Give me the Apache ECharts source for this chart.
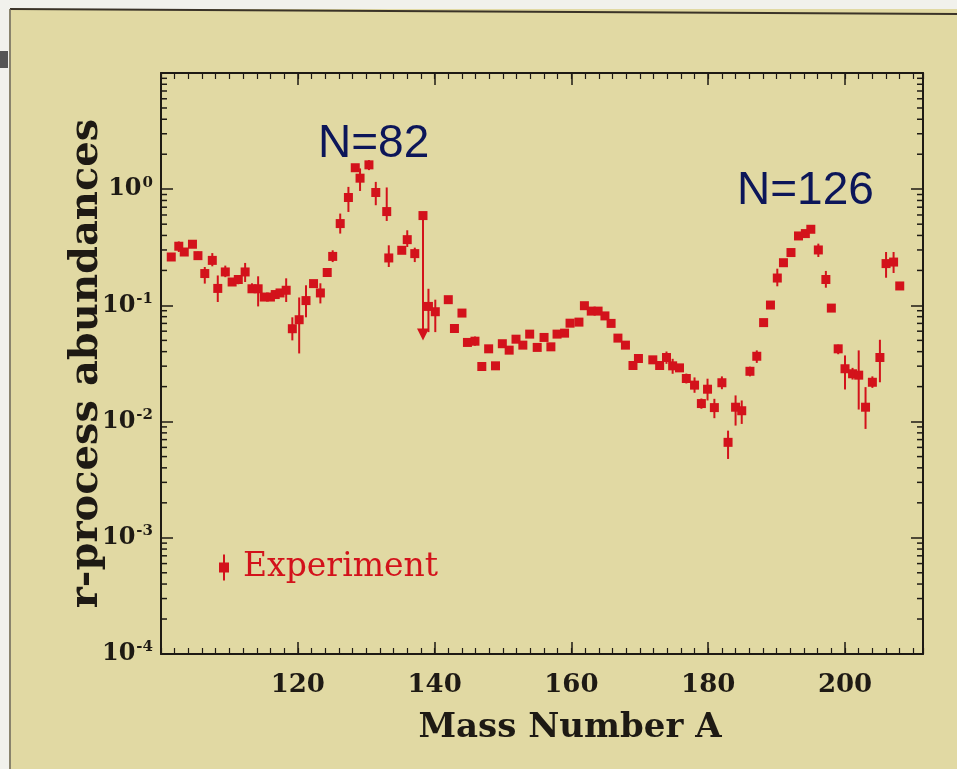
<!DOCTYPE html>
<html>
<head>
<meta charset="utf-8">
<script src="https://cdn.jsdelivr.net/npm/echarts@6/dist/echarts.min.js"></script>
<style>
  html, body { margin: 0; padding: 0; background: #fff; }
  #chart { width: 957px; height: 769px; }
</style>
</head>
<body>
<div id="chart"></div>
<script>
// mass number A of each measured point
const massNumber = [
  101.5, 102.6, 103.4, 104.6, 105.4, 106.4, 107.5, 108.3, 109.4, 110.4,
  111.3, 112.3, 113.3, 114.2, 115.1, 116.0, 116.7, 117.4, 118.3, 119.2,
  120.2, 121.2, 122.3, 123.3, 124.3, 125.1, 126.2, 127.4, 128.4, 129.1,
  130.4, 131.4, 133.0, 133.3, 135.2, 136.0, 137.1, 138.3, 139.1, 140.1,
  142.0, 142.9, 144.0, 144.8, 145.9, 146.9, 147.9, 148.9, 149.9, 150.9,
  151.9, 152.9, 153.9, 155.0, 156.0, 157.0, 157.9, 159.0, 159.8, 161.1,
  161.9, 162.9, 163.9, 164.9, 165.8, 166.8, 167.9, 169.0, 169.8, 171.9,
  172.9, 173.9, 174.8, 175.8, 176.8, 178.0, 179.0, 179.9, 180.9, 182.0,
  182.9, 184.0, 184.9, 186.1, 187.1, 188.1, 189.1, 190.1, 191.0, 192.1,
  193.2, 194.2, 195.0, 196.1, 197.2, 198.0, 199.0, 200.0, 201.1, 202.0,
  203.0, 204.0, 205.1, 206.0, 207.1, 208.0
];
// r-process abundance
const abundance = [
  0.261, 0.323, 0.288, 0.336, 0.268, 0.188, 0.244, 0.140, 0.194, 0.159,
  0.167, 0.194, 0.139, 0.139, 0.118, 0.118, 0.124, 0.128, 0.135, 0.063,
  0.0753, 0.110, 0.154, 0.128, 0.192, 0.264, 0.506, 0.848, 1.53, 1.244,
  1.62, 0.937, 0.642, 0.256, 0.298, 0.368, 0.279, 0.593, 0.098, 0.0882,
  0.112, 0.0633, 0.0859, 0.048, 0.0492, 0.0298, 0.0423, 0.0302, 0.0468, 0.0412,
  0.0512, 0.0455, 0.0566, 0.0435, 0.053, 0.044, 0.0566, 0.0577, 0.0703, 0.0718,
  0.0994, 0.0893, 0.0893, 0.0812, 0.070, 0.0523, 0.0455, 0.0304, 0.0349, 0.034,
  0.0304, 0.0356, 0.0302, 0.029, 0.0235, 0.0206, 0.0143, 0.019, 0.0132, 0.0216,
  0.00663, 0.0133, 0.0124, 0.0271, 0.0365, 0.0711, 0.1007, 0.172, 0.233, 0.285,
  0.396, 0.415, 0.452, 0.30, 0.167, 0.0948, 0.0423, 0.0285, 0.0258, 0.0251,
  0.0133, 0.0218, 0.0356, 0.229, 0.236, 0.147
];
// error bar ends (null = no visible bar)
const errHigh = [
  null, 0.355, 0.31, null, 0.29, 0.214, 0.282, 0.181, 0.22, null,
  0.18, 0.232, 0.155, 0.178, null, null, null, null, 0.171, 0.079,
  0.117, 0.149, null, 0.155, null, 0.298, 0.617, 1.047, null, 1.51,
  1.78, 1.156, 1.035, 0.329, null, 0.443, 0.314, null, 0.139, 0.112,
  null, null, null, 0.051, 0.054, 0.032, null, null, null, null,
  null, null, null, null, null, null, null, null, null, null,
  null, null, null, null, null, null, null, null, null, 0.0365,
  null, 0.0401, 0.0347, null, 0.0259, 0.024, 0.0158, 0.0234, 0.0157, 0.0245,
  0.00836, 0.0168, 0.0152, 0.0297, 0.041, null, 0.107, 0.207, null, 0.305,
  null, 0.44, 0.49, 0.34, 0.198, 0.1, 0.046, 0.0371, 0.029, 0.041,
  0.0198, 0.0245, 0.0506, 0.288, 0.288, null
];
const errLow = [
  null, 0.288, 0.27, null, 0.25, 0.154, 0.217, 0.107, 0.175, null,
  0.152, 0.159, 0.128, 0.098, null, null, null, null, 0.107, 0.050,
  0.0386, 0.079, null, 0.104, null, 0.236, 0.415, 0.637, null, 0.966,
  1.46, 0.728, 0.533, 0.214, null, 0.318, 0.236, null, 0.0589, 0.0589,
  null, null, null, 0.046, 0.045, 0.028, null, null, null, null,
  null, null, null, null, null, null, null, null, null, null,
  null, null, null, null, null, null, null, null, null, 0.0318,
  null, 0.0314, 0.0258, null, 0.0213, 0.0177, 0.0129, 0.0152, 0.0107, 0.019,
  0.00477, 0.00924, 0.00955, 0.0245, 0.032, null, 0.095, 0.146, null, 0.265,
  null, 0.39, 0.42, 0.261, 0.142, 0.088, 0.038, 0.0189, 0.023, 0.0127,
  0.00865, 0.0195, 0.0218, 0.173, 0.19, null
];
// upper-limit arrows: index -> arrow tip value
const upperLimits = { 37: 0.05 };

const yMin = 1e-4, yMax = 10;
const xMin = 100, xMax = 211.4;
// minor ticks on the log axis
const logMinorTicks = [];
for (let e = -4; e < 1; e++) {
  for (let m = 2; m <= 9; m++) logMinorTicks.push(m * Math.pow(10, e));
}

const RED = '#d3121b';
const INK = '#1e1a14';
const SERIF = '"DejaVu Serif", "Liberation Serif", serif';

const chart = echarts.init(document.getElementById('chart'));

function renderPoint(params, api) {
  const i = params.dataIndex;
  const a = api.value(0);
  const c = api.coord([a, api.value(1)]);
  const kids = [];
  if (errHigh[i] != null) {
    const hi = api.coord([a, errHigh[i]]);
    const lo = api.coord([a, errLow[i]]);
    kids.push({
      type: 'line',
      shape: { x1: c[0], y1: hi[1], x2: c[0], y2: lo[1] },
      style: { stroke: RED, lineWidth: 2 }
    });
  }
  if (upperLimits[i] != null) {
    const tip = api.coord([a, upperLimits[i]]);
    kids.push({
      type: 'line',
      shape: { x1: c[0], y1: c[1], x2: c[0], y2: tip[1] - 10 },
      style: { stroke: RED, lineWidth: 2 }
    });
    kids.push({
      type: 'polygon',
      shape: { points: [[c[0] - 6, tip[1] - 12], [c[0] + 6, tip[1] - 12], [c[0], tip[1]]] },
      style: { fill: RED }
    });
  }
  kids.push({
    type: 'rect',
    shape: { x: c[0] - 4.5, y: c[1] - 4.5, width: 9, height: 9 },
    style: { fill: RED }
  });
  return { type: 'group', children: kids };
}

function renderMinorTick(params, api) {
  const y = api.coord([xMin, api.value(1)])[1];
  const left = params.coordSys.x;
  const right = left + params.coordSys.width;
  const st = { stroke: INK, lineWidth: 1.5 };
  return {
    type: 'group',
    children: [
      { type: 'line', shape: { x1: left, y1: y, x2: left + 6, y2: y }, style: st },
      { type: 'line', shape: { x1: right - 6, y1: y, x2: right, y2: y }, style: st }
    ]
  };
}

const frameLine = { lineStyle: { color: INK, width: 2 } };

const option = {
  backgroundColor: '#e1d9a3',
  animation: false,
  grid: { left: 161, right: 34, top: 73, bottom: 115 },
  xAxis: [
    {
      type: 'value', min: xMin, max: xMax, interval: 20, position: 'bottom',
      axisLine: frameLine,
      axisTick: { inside: true, length: 12, lineStyle: { color: INK, width: 1.5 } },
      axisLabel: {
        margin: 18, color: INK, fontFamily: SERIF, fontWeight: 'bold', fontSize: 26,
        formatter: v => (v > xMin && v < xMax && v % 20 === 0) ? String(v) : ''
      },
      splitLine: { show: false },
      name: 'Mass Number A', nameLocation: 'middle', nameGap: 57,
      nameTextStyle: { color: INK, fontFamily: SERIF, fontWeight: 'bold', fontSize: 34, padding: [0, 0, 0, 56] }
    },
    {
      type: 'value', min: xMin, max: xMax, interval: 2, position: 'bottom',
      axisLine: { show: false },
      axisTick: { inside: true, length: 6, lineStyle: { color: INK, width: 1.2 } },
      axisLabel: { show: false }, splitLine: { show: false }
    },
    {
      type: 'value', min: xMin, max: xMax, interval: 20, position: 'top',
      axisLine: frameLine,
      axisTick: { inside: true, length: 12, lineStyle: { color: INK, width: 1.5 } },
      axisLabel: { show: false }, splitLine: { show: false }
    },
    {
      type: 'value', min: xMin, max: xMax, interval: 2, position: 'top',
      axisLine: { show: false },
      axisTick: { inside: true, length: 6, lineStyle: { color: INK, width: 1.2 } },
      axisLabel: { show: false }, splitLine: { show: false }
    }
  ],
  yAxis: [
    {
      type: 'log', logBase: 10, min: yMin, max: yMax, position: 'left',
      axisLine: frameLine,
      axisTick: { inside: true, length: 12, lineStyle: { color: INK, width: 1.5 } },
      axisLabel: {
        margin: 8, color: INK,
        formatter: v => {
          const e = Math.round(Math.log10(v));
          if (e > 0) return '';
          return '{b|10}{s|' + e + '}';
        },
        rich: {
          b: { fontFamily: SERIF, fontWeight: 'bold', fontSize: 24, color: INK },
          s: { fontFamily: SERIF, fontWeight: 'bold', fontSize: 15, color: INK, verticalAlign: 'bottom', padding: [0, 0, 13, 1] }
        }
      },
      splitLine: { show: false },
      name: 'r-process abundances', nameLocation: 'middle', nameGap: 54,
      nameMoveOverlap: false,
      nameTextStyle: { color: INK, fontFamily: SERIF, fontWeight: 'bold', fontSize: 40 }
    },
    {
      type: 'log', logBase: 10, min: yMin, max: yMax, position: 'right',
      axisLine: frameLine,
      axisTick: { inside: true, length: 12, lineStyle: { color: INK, width: 1.5 } },
      axisLabel: { show: false }, splitLine: { show: false }
    }
  ],
  legend: {
    left: 214, top: 546,
    itemWidth: 10, itemHeight: 26,
    data: [{
      name: 'Experiment',
      icon: 'path://M4,0h2v8h4v10h-4v8h-2v-8h-4v-10h4z',
      itemStyle: { color: RED }
    }],
    textStyle: { color: RED, fontFamily: SERIF, fontSize: 33, padding: [0, 0, 0, 9] }
  },
  graphic: [
    { type: 'rect', left: 0, top: 0, shape: { width: 957, height: 9 }, style: { fill: '#f1f1ec' } },
    { type: 'rect', left: 0, top: 0, shape: { width: 9, height: 769 }, style: { fill: '#f1f1ec' } },
    { type: 'line', shape: { x1: 10, y1: 9, x2: 957, y2: 14 }, style: { stroke: '#3a3328', lineWidth: 2 } },
    { type: 'line', shape: { x1: 10, y1: 9, x2: 10, y2: 769 }, style: { stroke: '#6b665a', lineWidth: 1.5 } },
    { type: 'rect', left: 0, top: 51, shape: { width: 8, height: 17 }, style: { fill: '#555' } },
    {
      type: 'text', left: 318, top: 121,
      style: { text: 'N=82', fill: '#0c1659', font: '46px "Liberation Sans", Arial, sans-serif' }
    },
    {
      type: 'text', left: 737, top: 168,
      style: { text: 'N=126', fill: '#0c1659', font: '46px "Liberation Sans", Arial, sans-serif' }
    }
  ],
  series: [
    {
      name: 'logMinorTicks',
      type: 'custom',
      silent: true,
      xAxisIndex: 0, yAxisIndex: 0,
      data: logMinorTicks.map(v => [xMin, v]),
      renderItem: renderMinorTick,
      clip: false
    },
    {
      name: 'Experiment',
      type: 'custom',
      xAxisIndex: 0, yAxisIndex: 0,
      itemStyle: { color: RED },
      data: massNumber.map((a, i) => [a, abundance[i]]),
      renderItem: renderPoint
    }
  ]
};

chart.setOption(option);
</script>
</body>
</html>
